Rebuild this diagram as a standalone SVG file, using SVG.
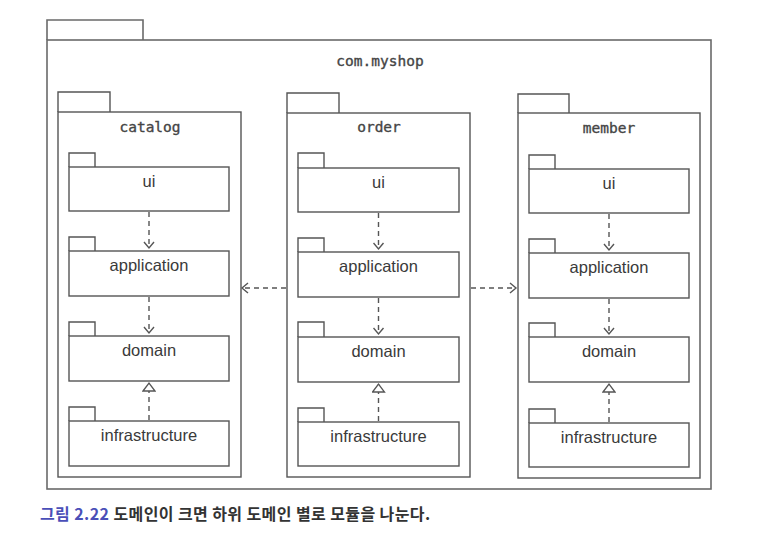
<svg xmlns="http://www.w3.org/2000/svg" width="771" height="548" viewBox="0 0 771 548">
<defs>
<style>
.pk{fill:none;stroke:#555;stroke-width:1.4}
.outer{fill:none;stroke:#6a6a6a;stroke-width:1.6}
.ttl{font-family:"DejaVu Sans Mono","Liberation Mono",monospace;font-size:14.5px;fill:#454545;stroke:#454545;stroke-width:0.35;text-anchor:middle}
.lbl{font-family:"Liberation Sans",Arial,sans-serif;font-size:16.5px;fill:#3a3a3a;text-anchor:middle}
.dep{fill:none;stroke:#555;stroke-width:1.4;stroke-dasharray:5 4}
.cap{font-family:"Noto Sans CJK KR","Noto Sans",sans-serif;font-size:16px;font-weight:bold;letter-spacing:0.4px}
</style>
<marker id="open" markerWidth="12" markerHeight="12" refX="10" refY="6" orient="auto" markerUnits="userSpaceOnUse">
<path d="M4,1 L10,6 L4,11" fill="none" stroke="#555" stroke-width="1.4"/>
</marker>
<marker id="tri" markerWidth="14" markerHeight="14" refX="12" refY="7" orient="auto" markerUnits="userSpaceOnUse">
<path d="M4,1 L12,7 L4,13 Z" fill="#fff" stroke="#555" stroke-width="1.3"/>
</marker>
</defs>
<rect width="771" height="548" fill="#fff"/>

<g id="com.myshop">
<path class="outer" d="M47,40 V20 H143 V40"/>
<rect class="outer" x="47" y="40" width="664" height="449"/>
<text class="ttl" x="380" y="66">com.myshop</text>
</g>

<g id="catalog">
<path class="pk" d="M58,112 V92 H110 V112"/>
<rect class="pk" x="58" y="112" width="183" height="365"/>
<text class="ttl" x="150" y="132">catalog</text>
</g>
<g id="catalog.ui">
<path class="pk" d="M69,167 V153 H95 V167"/>
<rect class="pk" x="69" y="167" width="160" height="44"/>
<text class="lbl" x="149" y="187">ui</text>
</g>
<g id="catalog.application">
<path class="pk" d="M69,251 V237 H95 V251"/>
<rect class="pk" x="69" y="251" width="160" height="45"/>
<text class="lbl" x="149" y="271">application</text>
</g>
<g id="catalog.domain">
<path class="pk" d="M69,336 V322 H95 V336"/>
<rect class="pk" x="69" y="336" width="160" height="45"/>
<text class="lbl" x="149" y="356">domain</text>
</g>
<g id="catalog.infrastructure">
<path class="pk" d="M69,421 V407 H95 V421"/>
<rect class="pk" x="69" y="421" width="160" height="45"/>
<text class="lbl" x="149" y="441">infrastructure</text>
</g>

<g id="order">
<path class="pk" d="M287,113 V93 H339 V113"/>
<rect class="pk" x="287" y="113" width="183" height="364"/>
<text class="ttl" x="379" y="132">order</text>
</g>
<g id="order.ui">
<path class="pk" d="M298,168 V153 H324 V168"/>
<rect class="pk" x="298" y="168" width="161" height="44"/>
<text class="lbl" x="378.5" y="188">ui</text>
</g>
<g id="order.application">
<path class="pk" d="M298,252 V238 H324 V252"/>
<rect class="pk" x="298" y="252" width="161" height="45"/>
<text class="lbl" x="378.5" y="272">application</text>
</g>
<g id="order.domain">
<path class="pk" d="M298,337 V322 H324 V337"/>
<rect class="pk" x="298" y="337" width="161" height="45"/>
<text class="lbl" x="378.5" y="357">domain</text>
</g>
<g id="order.infrastructure">
<path class="pk" d="M298,422 V408 H324 V422"/>
<rect class="pk" x="298" y="422" width="161" height="44"/>
<text class="lbl" x="378.5" y="442">infrastructure</text>
</g>

<g id="member">
<path class="pk" d="M518,113 V94 H569 V113"/>
<rect class="pk" x="518" y="113" width="182" height="365"/>
<text class="ttl" x="609" y="133">member</text>
</g>
<g id="member.ui">
<path class="pk" d="M529,169 V155 H555 V169"/>
<rect class="pk" x="529" y="169" width="160" height="44"/>
<text class="lbl" x="609" y="189">ui</text>
</g>
<g id="member.application">
<path class="pk" d="M529,253 V239 H555 V253"/>
<rect class="pk" x="529" y="253" width="160" height="45"/>
<text class="lbl" x="609" y="273">application</text>
</g>
<g id="member.domain">
<path class="pk" d="M529,337 V323 H555 V337"/>
<rect class="pk" x="529" y="337" width="160" height="45"/>
<text class="lbl" x="609" y="357">domain</text>
</g>
<g id="member.infrastructure">
<path class="pk" d="M529,423 V409 H555 V423"/>
<rect class="pk" x="529" y="423" width="160" height="44"/>
<text class="lbl" x="609" y="443">infrastructure</text>
</g>

<g id="connectors">
<line class="dep" x1="149" y1="212" x2="149" y2="248" marker-end="url(#open)"/>
<line class="dep" x1="149" y1="297" x2="149" y2="333" marker-end="url(#open)"/>
<line class="dep" x1="149" y1="420" x2="149" y2="383" marker-end="url(#tri)"/>
<line class="dep" x1="378.5" y1="213" x2="378.5" y2="249" marker-end="url(#open)"/>
<line class="dep" x1="378.5" y1="298" x2="378.5" y2="334" marker-end="url(#open)"/>
<line class="dep" x1="378.5" y1="421" x2="378.5" y2="384" marker-end="url(#tri)"/>
<line class="dep" x1="609" y1="214" x2="609" y2="250" marker-end="url(#open)"/>
<line class="dep" x1="609" y1="299" x2="609" y2="334" marker-end="url(#open)"/>
<line class="dep" x1="609" y1="422" x2="609" y2="384" marker-end="url(#tri)"/>
<line class="dep" x1="286" y1="288" x2="242" y2="288" marker-end="url(#open)"/>
<line class="dep" x1="471" y1="288" x2="516" y2="288" marker-end="url(#open)"/>
</g>

<text class="cap" x="40" y="520"><tspan fill="#4a4fb8">그림 2.22</tspan><tspan fill="#333"> 도메인이 크면 하위 도메인 별로 모듈을 나눈다.</tspan></text>
</svg>
